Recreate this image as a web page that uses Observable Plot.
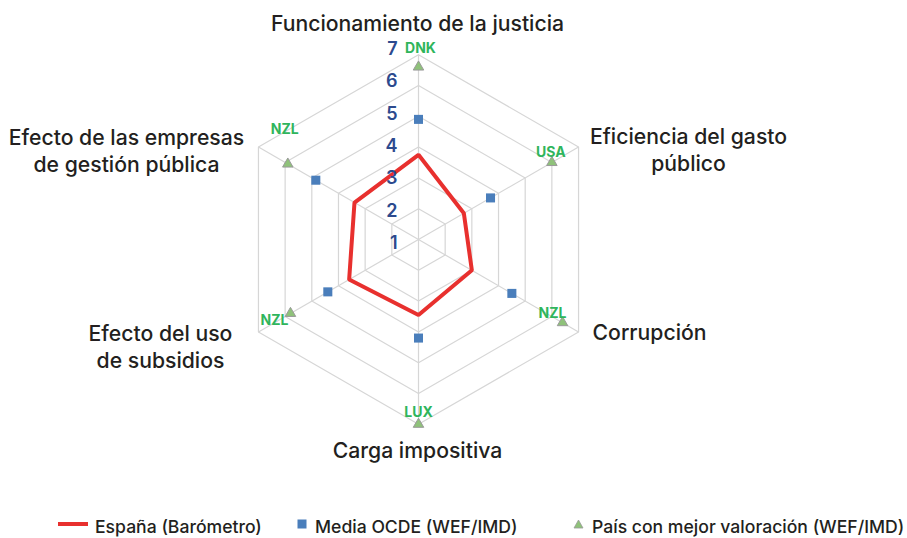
<!DOCTYPE html>
<html>
<head>
<meta charset="utf-8">
<script src="https://cdn.jsdelivr.net/npm/d3@7"></script>
<script src="https://cdn.jsdelivr.net/npm/@observablehq/plot@0.6"></script>
<style>
  html, body { margin: 0; padding: 0; background: #fff; }
  #chart { width: 907px; }
  #legend { position: relative; width: 907px; height: 28px; font-family: Inter, "Liberation Sans", Arial, sans-serif; font-weight: 500; font-size: 17.6px; color: #231f20; }
  #legend span { position: absolute; white-space: nowrap; }
</style>
</head>
<body>
<div id="chart"></div>
<div id="legend"></div>
<script>
// ---- data ----
const axisNames = ["Funcionamiento de la justicia", "Eficiencia del gasto\npúblico", "Corrupción", "Carga impositiva", "Efecto del uso\nde subsidios", "Efecto de las empresas\nde gestión pública"];
const espana = [3.75, 2.7, 3.0, 3.45, 3.6, 3.4];
const ocde = [4.9, 3.7, 4.5, 4.2, 4.4, 4.85];
const mejor = [6.6, 6.0, 6.4, 7.0, 5.8, 5.9];
const mejorPais = ["DNK", "USA", "NZL", "LUX", "NZL", "NZL"];
const ticks = [1, 2, 3, 4, 5, 6, 7];
const seriesNames = ["España (Barómetro)", "Media OCDE (WEF/IMD)", "País con mejor valoración (WEF/IMD)"];

// ---- layout ----
const W = 907, H = 510, CX = 418, CY = 239, U = 30.8;
const rMin = 1, rMax = 7;
// pixel nudges for text (layout only)
const axisLabelNudge = [[-1, -32], [110, 2], [71, 0], [-1, 25], [-98, 14], [-132, 3]];
const paisNudge = [[2, -19], [-1, -10], [-10, -9], [0, -12], [-16, 7], [-3, -35]];

const n = axisNames.length;
const ang = i => i * 2 * Math.PI / n;
const px = (v, i) => (v - rMin) * Math.sin(ang(i));
const py = (v, i) => (v - rMin) * Math.cos(ang(i));

const rings = ticks.filter(t => t > rMin).flatMap(t => axisNames.map((_, i) => ({ring: t, x: px(t, i), y: py(t, i)})));
const spokes = axisNames.map((_, i) => ({x1: 0, y1: 0, x2: px(rMax, i), y2: py(rMax, i)}));
const espData = espana.map((v, i) => ({x: px(v, i), y: py(v, i)}));
const ocdeData = ocde.map((v, i) => ({x: px(v, i), y: py(v, i)}));
const mejorData = mejor.map((v, i) => ({x: px(v, i), y: py(v, i), pais: mejorPais[i],
  lx: px(v, i) + paisNudge[i][0] / U, ly: py(v, i) - paisNudge[i][1] / U}));
const axisLabelData = axisNames.map((t, i) => ({text: t,
  x: px(rMax, i) + axisLabelNudge[i][0] / U, y: py(rMax, i) - axisLabelNudge[i][1] / U}));
const tickData = ticks.map(t => ({t, x: 0, y: (t - rMin) * 1.05 - 0.12}));

const chart = Plot.plot({
  width: W, height: H,
  marginTop: 0, marginRight: 0, marginBottom: 0, marginLeft: 0,
  x: {domain: [-CX / U, (W - CX) / U], axis: null},
  y: {domain: [-(H - CY) / U, CY / U], axis: null},
  style: {fontFamily: "Inter, 'Liberation Sans', Arial, sans-serif", background: "#fff"},
  marks: [
    Plot.line(rings, {x: "x", y: "y", z: "ring", curve: "linear-closed", stroke: "#d6d6d6", strokeWidth: 1.2}),
    Plot.link(spokes, {x1: "x1", y1: "y1", x2: "x2", y2: "y2", stroke: "#d6d6d6", strokeWidth: 1.2}),
    Plot.line(espData, {x: "x", y: "y", curve: "linear-closed", stroke: "#e8302e", strokeWidth: 4, strokeLinejoin: "miter"}),
    Plot.dot(ocdeData, {x: "x", y: "y", symbol: "square", r: 5.1, fill: "#4a7ebb", stroke: "none"}),
    Plot.dot(mejorData, {x: "x", y: "y", symbol: "triangle", r: 3.9, fill: "#8fc27a", stroke: "#9a9a9a", strokeWidth: 1}),
    Plot.text(mejorData, {x: "lx", y: "ly", text: "pais", fill: "#2fb55c", fontSize: 14, fontWeight: 700}),
    Plot.text(tickData, {x: "x", y: "y", text: d => String(d.t), dx: -21, textAnchor: "end", fill: "#2c4a8e", fontSize: 18, fontWeight: 600}),
    Plot.text(axisLabelData, {x: "x", y: "y", text: "text", fontSize: 21.2, fontWeight: 500, lineHeight: 1.25, fill: "#231f20", textAnchor: "middle"})
  ]
});
document.getElementById("chart").appendChild(chart);

// ---- legend ----
const legend = document.getElementById("legend");
const items = [
  {sym: `<svg width="30" height="6"><line x1="0" y1="3" x2="30" y2="3" stroke="#e8302e" stroke-width="4"/></svg>`, left: 58, textLeft: 95, top: 11},
  {sym: `<svg width="10" height="10"><rect x="0.5" y="0.5" width="9" height="9" fill="#4a7ebb"/></svg>`, left: 297, textLeft: 315, top: 9},
  {sym: `<svg width="11" height="10"><path d="M5.5,1 L10,9 L1,9 Z" fill="#8fc27a" stroke="#9a9a9a" stroke-width="0.8"/></svg>`, left: 573, textLeft: 592, top: 9}
];
items.forEach((it, i) => {
  const s = document.createElement("span");
  s.style.left = it.left + "px"; s.style.top = it.top + "px"; s.style.lineHeight = "0";
  s.innerHTML = it.sym;
  legend.appendChild(s);
  const t = document.createElement("span");
  t.style.left = it.textLeft + "px"; t.style.top = "7px"; t.style.lineHeight = "20px";
  t.textContent = seriesNames[i];
  legend.appendChild(t);
});
</script>
</body>
</html>
